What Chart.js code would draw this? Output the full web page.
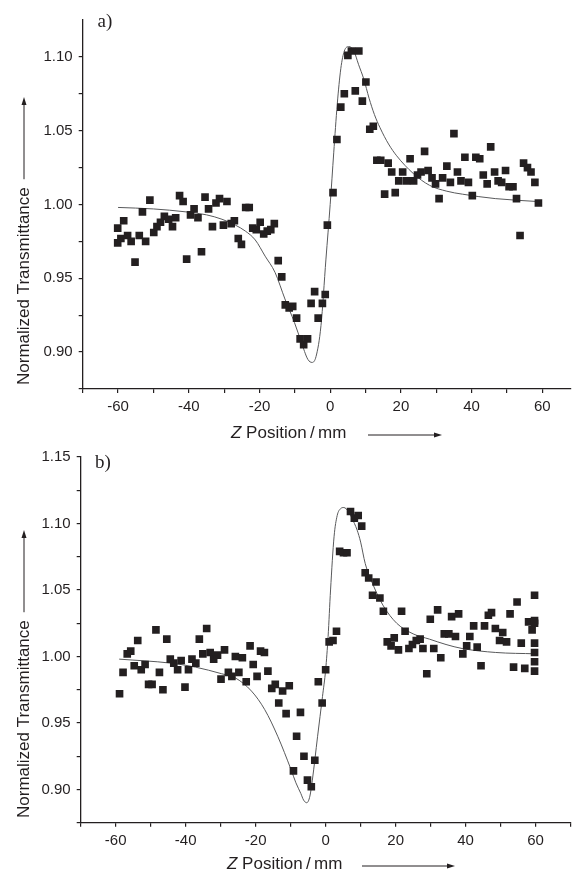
<!DOCTYPE html>
<html>
<head>
<meta charset="utf-8">
<script src="https://cdn.jsdelivr.net/npm/chart.js@4.4.1/dist/chart.umd.min.js"></script>
<style>
  html, body { margin: 0; padding: 0; background: #fff; overflow: hidden; }
  .panel { position: absolute; left: 0; width: 576px; }
  #wrapA { top: 0; height: 440px; }
  #wrapB { top: 440px; height: 432px; }
</style>
</head>
<body>
<div class="panel" id="wrapA"><canvas id="chartA"></canvas></div>
<div class="panel" id="wrapB"><canvas id="chartB"></canvas></div>
<script>
// ---- panel a) measured points
const aZ = [-60.1,-60.1,-59.2,-58.4,-57.3,-56.3,-55.2,-54.0,-53.1,-52.2,-51.0,-49.9,-49.0,-48.0,-46.9,-45.7,-44.6,-43.7,-42.6,-41.6,
  -40.6,-39.5,-38.5,-37.4,-36.4,-35.4,-34.4,-33.3,-32.3,-31.3,-30.2,-29.2,-28.0,-27.1,-26.0,-25.1,-23.9,-22.9,-21.9,-20.9,
  -19.8,-18.8,-17.8,-16.8,-15.8,-14.7,-13.7,-12.7,-11.6,-10.6,-9.5,-8.5,-7.5,-6.4,-5.4,-4.4,-3.4,-2.2,-1.4,-0.8,
  0.8,1.9,3.0,4.0,5.0,6.0,7.1,8.1,9.1,10.1,11.2,12.2,13.2,14.3,15.4,16.4,17.4,18.4,19.4,20.5,
  21.6,22.6,23.6,24.7,25.7,26.7,27.7,28.8,29.8,30.8,31.8,33.0,34.0,35.0,36.0,37.0,38.1,39.1,40.2,41.2,
  42.3,43.3,44.4,45.4,46.5,47.5,48.5,49.6,50.6,51.7,52.7,53.7,54.7,55.8,56.8,57.9,58.9];
const aT = [0.984,0.974,0.977,0.989,0.979,0.975,0.961,0.979,0.995,0.975,1.003,0.981,0.985,0.988,0.992,0.990,0.985,0.991,1.006,1.002,
  0.963,0.993,0.997,0.991,0.968,1.005,0.997,0.985,1.001,1.004,0.986,1.002,0.987,0.989,0.977,0.973,0.998,0.998,0.984,0.983,
  0.988,0.980,0.982,0.983,0.987,0.962,0.951,0.932,0.930,0.931,0.923,0.909,0.905,0.909,0.933,0.941,0.923,0.933,0.939,0.986,
  1.008,1.044,1.066,1.075,1.101,1.104,1.077,1.104,1.070,1.083,1.051,1.053,1.030,1.030,1.007,1.028,1.022,1.008,1.016,1.022,
  1.016,1.031,1.016,1.020,1.022,1.036,1.023,1.018,1.014,1.004,1.018,1.026,1.015,1.048,1.022,1.016,1.032,1.015,1.006,1.032,
  1.031,1.020,1.014,1.039,1.022,1.016,1.015,1.023,1.012,1.012,1.004,0.979,1.028,1.025,1.022,1.015,1.001];

// ---- panel a) fitted curve
const aFitZ = [-60,-50,-40.8,-35,-30.6,-26.8,-24,-21.2,-18.4,-15.6,-12.8,-10.1,-8.2,-6.3,-5.1,-4.0,-2.6,-1.2,0,1,
  2,3,4,5.3,6.7,8,9.5,11,12.5,14.1,16.5,18.8,23.5,28.1,33,37.4,46.7,58.8];
const aFitT = [0.998,0.997,0.995,0.993,0.990,0.986,0.982,0.976,0.965,0.954,0.936,0.920,0.907,0.895,0.893,0.897,0.918,0.963,1.000,1.035,
  1.068,1.092,1.104,1.107,1.104,1.095,1.085,1.072,1.061,1.052,1.041,1.033,1.021,1.013,1.009,1.007,1.004,1.002];

// ---- panel b) measured points
const bZ = [-58.9,-57.9,-56.7,-55.7,-54.7,-53.7,-52.7,-51.6,-50.6,-49.6,-48.5,-47.5,-46.5,-45.4,-44.4,-43.4,-42.3,-41.3,-40.2,-39.2,
  -38.2,-37.1,-36.1,-35.1,-34.0,-33.0,-32.0,-30.9,-29.9,-28.9,-27.8,-26.8,-25.8,-24.8,-23.8,-22.7,-21.6,-20.7,-19.6,-18.6,
  -17.5,-16.5,-15.4,-14.4,-13.4,-12.3,-11.3,-10.4,-9.2,-8.3,-7.2,-6.2,-5.2,-4.1,-3.1,-2.1,-1.0,0.0,1.0,2.1,
  3.1,4.0,5.1,6.1,7.1,8.2,9.3,10.3,11.3,12.3,13.4,14.4,15.5,16.5,17.6,18.7,19.6,20.8,21.7,22.7,
  23.8,24.8,25.9,27.0,27.8,28.9,29.9,30.9,32.0,32.9,33.9,35.2,36.0,37.1,38.0,39.2,40.3,41.2,42.3,43.3,
  44.4,45.4,46.5,47.4,48.5,49.7,50.6,51.7,52.7,53.7,54.7,55.9,56.9,58.0,59.0,59.7,59.7,59.7,59.7,59.7,
  59.7,59.7];
const bT = [0.972,0.988,1.002,1.004,0.993,1.012,0.990,0.994,0.979,0.979,1.020,0.988,0.975,1.013,0.998,0.995,0.990,0.997,0.977,0.990,
  0.998,0.995,1.013,1.002,1.021,1.003,0.998,1.001,0.983,1.005,0.988,0.985,1.000,0.988,0.999,0.981,1.008,0.994,0.985,1.004,
  1.003,0.989,0.976,0.979,0.965,0.974,0.957,0.978,0.914,0.940,0.958,0.925,0.907,0.902,0.922,0.981,0.965,0.990,1.011,1.012,
  1.019,1.079,1.078,1.078,1.109,1.104,1.106,1.098,1.063,1.059,1.046,1.056,1.044,1.034,1.011,1.008,1.014,1.005,1.034,1.019,
  1.006,1.009,1.012,1.013,1.006,0.987,1.028,1.006,1.035,0.999,1.017,1.017,1.030,1.015,1.032,1.002,1.008,1.015,1.023,1.007,
  0.993,1.023,1.031,1.033,1.021,1.012,1.018,1.011,1.032,0.992,1.041,1.010,0.991,1.026,1.020,1.046,1.027,1.025,1.010,1.003,
  0.996,0.989];

// ---- panel b) fitted curve
const bFitZ = [-59,-44.3,-37.2,-29.7,-25.9,-21.2,-17.4,-13.7,-9.9,-8.5,-7.1,-6.3,-5.4,-4.5,-3.8,-2.3,-0.9,0,0.7,1.4,
  2.4,3.3,4.2,5.2,6.5,7.5,9,10,11.3,13.7,16.5,20.3,25,29.7,34.4,39,48.6,60];
const bFitT = [0.998,0.995,0.992,0.987,0.984,0.974,0.960,0.940,0.915,0.905,0.897,0.892,0.890,0.895,0.907,0.940,0.970,0.990,1.015,1.050,
  1.090,1.106,1.111,1.112,1.109,1.104,1.095,1.086,1.070,1.053,1.038,1.025,1.017,1.013,1.009,1.006,1.003,1.002];

// ---- axes
const xTicksA = [-70,-60,-50,-40,-30,-20,-10,0,10,20,30,40,50,60];
const xTicksB = [-70,-60,-50,-40,-30,-20,-10,0,10,20,30,40,50,60,70];
const xLabelled = [-60,-40,-20,0,20,40,60];
const yTicksA = [0.875,0.9,0.925,0.95,0.975,1.0,1.025,1.05,1.075,1.1];
const yLabelsA = [0.9,0.95,1.0,1.05,1.1];
const yTicksB = [0.875,0.9,0.925,0.95,0.975,1.0,1.025,1.05,1.075,1.1,1.125,1.15];
const yLabelsB = [0.9,0.95,1.0,1.05,1.1,1.15];

const INK = "#231f20";
const SANS = "'Liberation Sans', Arial, sans-serif";

function pts(zs, ts) {
  return zs.map((z, i) => ({ x: z, y: ts[i] }));
}

function drawArrow(ctx, x1, y, x2) {
  ctx.beginPath();
  ctx.moveTo(x1, y);
  ctx.lineTo(x2 - 6, y);
  ctx.stroke();
  ctx.beginPath();
  ctx.moveTo(x2, y);
  ctx.lineTo(x2 - 8, y - 2.5);
  ctx.lineTo(x2 - 8, y + 2.5);
  ctx.closePath();
  ctx.fill();
}

// labels, axis titles with arrows
const annotations = {
  id: "annotations",
  afterDraw(chart, args, o) {
    const ctx = chart.ctx;
    ctx.save();
    ctx.fillStyle = INK;
    ctx.strokeStyle = INK;
    ctx.lineWidth = 1;

    // panel letter
    ctx.font = "19px 'Liberation Serif', 'Times New Roman', serif";
    ctx.textAlign = "center";
    ctx.textBaseline = "middle";
    ctx.fillText(o.letter, o.letterX, o.letterY);

    // x title
    ctx.textAlign = "left";
    ctx.font = "italic 17px " + SANS;
    ctx.fillText("Z", o.xtX, o.xtY);
    let w = ctx.measureText("Z ").width;
    ctx.font = "17px " + SANS;
    ctx.fillText("Position\u2009/\u2009mm", o.xtX + w, o.xtY);
    drawArrow(ctx, o.xArrow[0], o.xtY + 2, o.xArrow[1]);

    // y title (rotated)
    ctx.translate(o.ytX, o.ytBottom);
    ctx.rotate(-Math.PI / 2);
    ctx.font = "17px " + SANS;
    ctx.fillText("Normalized Transmittance", 0, 0);
    const tw = ctx.measureText("Normalized Transmittance").width;
    drawArrow(ctx, tw + 8, 0, o.ytBottom - o.ytTip);
    ctx.restore();
  }
};

function makePanel(id, cfg) {
  new Chart(document.getElementById(id), {
    type: "scatter",
    data: {
      datasets: [
        {
          data: pts(cfg.z, cfg.t),
          pointStyle: "rect",
          pointRadius: 5.4,
          pointBackgroundColor: INK,
          pointBorderWidth: 0,
          order: 0
        },
        {
          data: pts(cfg.fz, cfg.ft),
          showLine: true,
          borderColor: "#58595b",
          borderWidth: 1,
          pointRadius: 0,
          cubicInterpolationMode: "monotone",
          order: 1
        }
      ]
    },
    options: {
      responsive: true,
      maintainAspectRatio: false,
      animation: false,
      events: [],
      layout: { padding: { top: cfg.padTop, left: 0, right: 0, bottom: 0 } },
      plugins: {
        legend: { display: false },
        tooltip: { enabled: false },
        annotations: cfg.notes
      },
      scales: {
        x: {
          min: -70,
          max: cfg.xMax,
          afterBuildTicks: (s) => { s.ticks = cfg.xTicks.map((v) => ({ value: v })); },
          afterFit: (s) => { s.height = cfg.xAxisH; },
          ticks: {
            autoSkip: false, maxRotation: 0, minRotation: 0,
            padding: 5, color: INK,
            font: { family: SANS, size: 15 },
            callback: (v) => (xLabelled.includes(v) ? String(v) : "")
          },
          grid: { drawOnChartArea: false, drawTicks: true, tickLength: 4, color: INK, lineWidth: 1.2 },
          border: { display: true, color: INK, width: 1.3 }
        },
        y: {
          min: 0.875,
          max: cfg.yMax,
          afterBuildTicks: (s) => { s.ticks = cfg.yTicks.map((v) => ({ value: v })); },
          afterFit: (s) => { s.width = cfg.yAxisW; },
          ticks: {
            autoSkip: false, padding: 6, color: INK,
            font: { family: SANS, size: 15 },
            callback: (v) => (cfg.yLabels.some((l) => Math.abs(l - v) < 1e-6) ? v.toFixed(2) : "")
          },
          grid: { drawOnChartArea: false, drawTicks: true, tickLength: 4, color: INK, lineWidth: 1.2 },
          border: { display: true, color: INK, width: 1.3 }
        }
      }
    },
    plugins: [annotations]
  });
}

makePanel("chartA", {
  z: aZ, t: aT, fz: aFitZ, ft: aFitT,
  xMax: 68, xTicks: xTicksA, yMax: 1.125, yTicks: yTicksA, yLabels: yLabelsA,
  padTop: 20, xAxisH: 51, yAxisW: 82.7,
  notes: { letter: "a)", letterX: 105, letterY: 22, xtX: 231, xtY: 433, xArrow: [368, 442],
           ytX: 24, ytBottom: 385, ytTip: 97 }
});

makePanel("chartB", {
  z: bZ, t: bT, fz: bFitZ, ft: bFitT,
  xMax: 70, xTicks: xTicksB, yMax: 1.15, yTicks: yTicksB, yLabels: yLabelsB,
  padTop: 17, xAxisH: 49.3, yAxisW: 80.7,
  notes: { letter: "b)", letterX: 103, letterY: 23, xtX: 227, xtY: 424, xArrow: [362, 455],
           ytX: 24, ytBottom: 378, ytTip: 90 }
});
</script>
</body>
</html>
